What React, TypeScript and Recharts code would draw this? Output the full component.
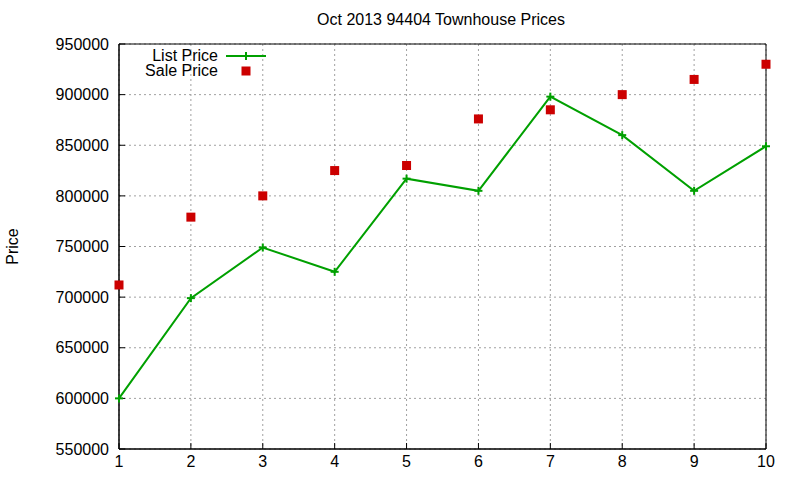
import React from 'react';
import {
  ComposedChart,
  Line,
  Scatter,
  XAxis,
  YAxis,
  CartesianGrid,
  ReferenceArea,
  Label
} from 'recharts';

const months = [1, 2, 3, 4, 5, 6, 7, 8, 9, 10];
const listPrice = [600000, 699000, 749000, 725000, 817000, 805000, 898000, 860000, 805000, 849000];
const salePrice = [712000, 779000, 800000, 825000, 830000, 876000, 885000, 900000, 915000, 930000];
const yTicks = [550000, 600000, 650000, 700000, 750000, 800000, 850000, 900000, 950000];

const GREEN = '#00a000';
const RED = '#cc0000';
const FONT = '"Liberation Sans", Arial, sans-serif';

const data = months.map((m, i) => ({ x: m, list: listPrice[i], sale: salePrice[i] }));

const PlusDot = (props: any) => {
  const { cx, cy } = props;
  if (cx == null || cy == null) return null;
  return (
    <g>
      <line x1={cx - 4} y1={cy} x2={cx + 4} y2={cy} stroke={GREEN} strokeWidth={2} />
      <line x1={cx} y1={cy - 4} x2={cx} y2={cy + 4} stroke={GREEN} strokeWidth={2} />
    </g>
  );
};

const Square = (props: any) => {
  const { cx, cy } = props;
  if (cx == null || cy == null) return null;
  return <rect x={cx - 4.5} y={cy - 4.5} width={9} height={9} fill={RED} />;
};

// gnuplot-style key, top left inside the plot
const KeyBox = () => (
  <div
    style={{
      position: 'absolute',
      top: 48,
      left: 120,
      fontFamily: FONT,
      fontSize: 16,
      color: '#000',
      lineHeight: '15px'
    }}
  >
    <div style={{ display: 'flex', alignItems: 'center', height: 15 }}>
      <span style={{ width: 98, textAlign: 'right' }}>List Price</span>
      <svg width={50} height={15}>
        <line x1={8} y1={8} x2={48} y2={8} stroke={GREEN} strokeWidth={2} />
        <line x1={28} y1={4} x2={28} y2={12} stroke={GREEN} strokeWidth={2} />
      </svg>
    </div>
    <div style={{ display: 'flex', alignItems: 'center', height: 15 }}>
      <span style={{ width: 98, textAlign: 'right' }}>Sale Price</span>
      <svg width={50} height={15}>
        <rect x={23.5} y={3.5} width={9} height={9} fill={RED} />
      </svg>
    </div>
  </div>
);

const noLabel = () => '';

export default function App() {
  return (
    <div style={{ position: 'relative', width: 800, height: 480, background: '#fff' }}>
      <style>{`body{margin:0}`}</style>
      <div
        style={{
          position: 'absolute',
          top: 11,
          width: 400,
          left: 241,
          textAlign: 'center',
          fontFamily: FONT,
          fontSize: 16
        }}
      >
        Oct 2013 94404 Townhouse Prices
      </div>
      <ComposedChart
        width={800}
        height={480}
        data={data}
        margin={{ top: 44, right: 34, bottom: 0, left: 0 }}
      >
        <CartesianGrid stroke="#a0a0a0" strokeDasharray="2 3" />
        <XAxis
          dataKey="x"
          type="number"
          domain={[1, 10]}
          ticks={months}
          height={31}
          stroke="#000"
          tickSize={-6}
          tickMargin={13}
          tick={{ fill: '#000', fontSize: 16, fontFamily: FONT }}
        />
        <XAxis
          xAxisId="top"
          orientation="top"
          dataKey="x"
          type="number"
          domain={[1, 10]}
          ticks={months}
          height={0}
          stroke="#000"
          tickSize={-6}
          tickFormatter={noLabel}
        />
        <YAxis
          type="number"
          domain={[550000, 950000]}
          ticks={yTicks}
          width={119}
          stroke="#000"
          tickSize={-6}
          tickMargin={16}
          tick={{ fill: '#000', fontSize: 16, fontFamily: FONT }}
        >
          <Label
            value="Price"
            angle={-90}
            position="insideLeft"
            offset={12}
            style={{ fill: '#000', fontSize: 16, fontFamily: FONT, textAnchor: 'middle' }}
          />
        </YAxis>
        <YAxis
          yAxisId="right"
          orientation="right"
          type="number"
          domain={[550000, 950000]}
          ticks={yTicks}
          width={0}
          stroke="#000"
          tickSize={-6}
          tickFormatter={noLabel}
        />
        <ReferenceArea x1={1} x2={10} y1={550000} y2={950000} fill="none" stroke="#000" strokeWidth={1} />
        <Line
          type="linear"
          dataKey="list"
          name="List Price"
          stroke={GREEN}
          strokeWidth={2}
          dot={<PlusDot />}
          activeDot={false}
          isAnimationActive={false}
        />
        <Scatter
          dataKey="sale"
          name="Sale Price"
          fill={RED}
          shape={<Square />}
          isAnimationActive={false}
        />
      </ComposedChart>
      <KeyBox />
    </div>
  );
}
